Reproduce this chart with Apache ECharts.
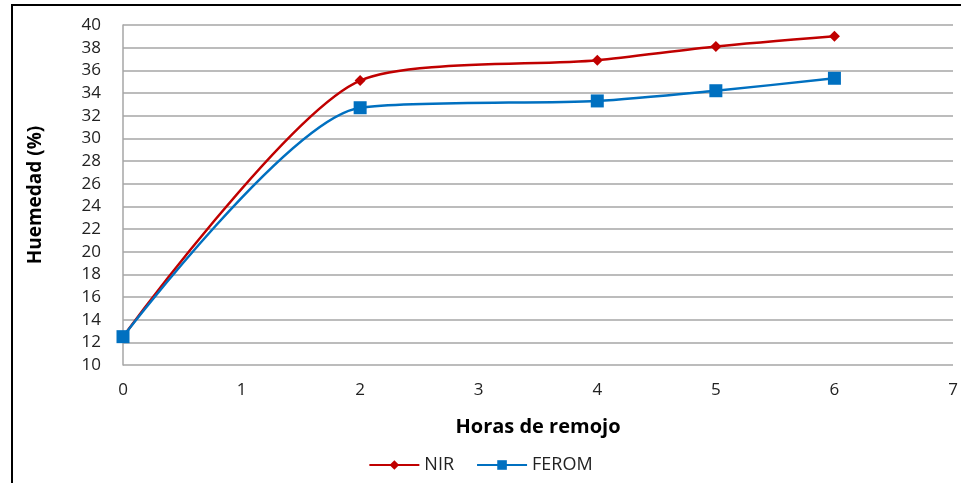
<!DOCTYPE html>
<html>
<head>
<meta charset="utf-8">
<script src="https://cdn.jsdelivr.net/npm/echarts@6/dist/echarts.min.js"></script>
<style>
html, body { margin: 0; padding: 0; background: #fff; }
#chart { width: 961px; height: 483px; }
</style>
</head>
<body>
<div id="chart"></div>
<script>
// horas de remojo
const hours = [0, 2, 4, 5, 6];
const nirValues = [12.5, 35.1, 36.9, 38.1, 39.0];
const feromValues = [12.5, 32.7, 33.3, 34.2, 35.3];

const font = "'Open Sans', 'Liberation Sans', sans-serif";

const chart = echarts.init(document.getElementById("chart"));
const option = {
	animation: false,
	color: ["#C00000", "#0070C0"],
	graphic: [{
		type: "rect",
		shape: { x: 12, y: 5, width: 1200, height: 1000 },
		style: { fill: "none", stroke: "#000", lineWidth: 2 },
		silent: true,
	}],
	grid: { left: 123, right: 8, top: 25, bottom: 118 },
	xAxis: {
		type: "value",
		min: 0,
		max: 7,
		interval: 1,
		name: "Horas de remojo",
		nameLocation: "middle",
		nameGap: 52,
		nameTextStyle: { fontFamily: font, fontWeight: "bold", fontSize: 20, color: "#000" },
		axisLine: { show: false },
		axisTick: { show: false },
		splitLine: { show: false },
		axisLabel: { margin: 17, fontFamily: font, fontSize: 17, color: "#222" },
	},
	yAxis: {
		type: "value",
		min: 10,
		max: 40,
		interval: 2,
		name: "Huemedad (%)",
		nameLocation: "middle",
		nameGap: 78,
		nameTextStyle: { fontFamily: font, fontWeight: "bold", fontSize: 19, color: "#000" },
		axisLine: { show: true, lineStyle: { color: "#a6a6a6", width: 1.5 } },
		axisTick: { show: false },
		splitLine: { lineStyle: { color: "#a6a6a6", width: 1.5 } },
		axisLabel: { margin: 22, fontFamily: font, fontSize: 17, color: "#222" },
	},
	legend: {
		bottom: 4,
		left: "center",
		itemWidth: 50,
		itemHeight: 12,
		itemGap: 22,
		textStyle: { fontFamily: font, fontSize: 18, color: "#222" },
		data: ["NIR", "FEROM"],
	},
	series: [
		{
			name: "NIR",
			type: "line",
			smooth: 0.25,
			symbol: "diamond",
			symbolSize: 11,
			lineStyle: { width: 2.5 },
			data: hours.map((h, i) => [h, nirValues[i]]),
		},
		{
			name: "FEROM",
			type: "line",
			smooth: 0.25,
			symbol: "rect",
			symbolSize: 13,
			lineStyle: { width: 2.5 },
			data: hours.map((h, i) => [h, feromValues[i]]),
		},
	],
};
chart.setOption(option, true);
</script>
</body>
</html>
